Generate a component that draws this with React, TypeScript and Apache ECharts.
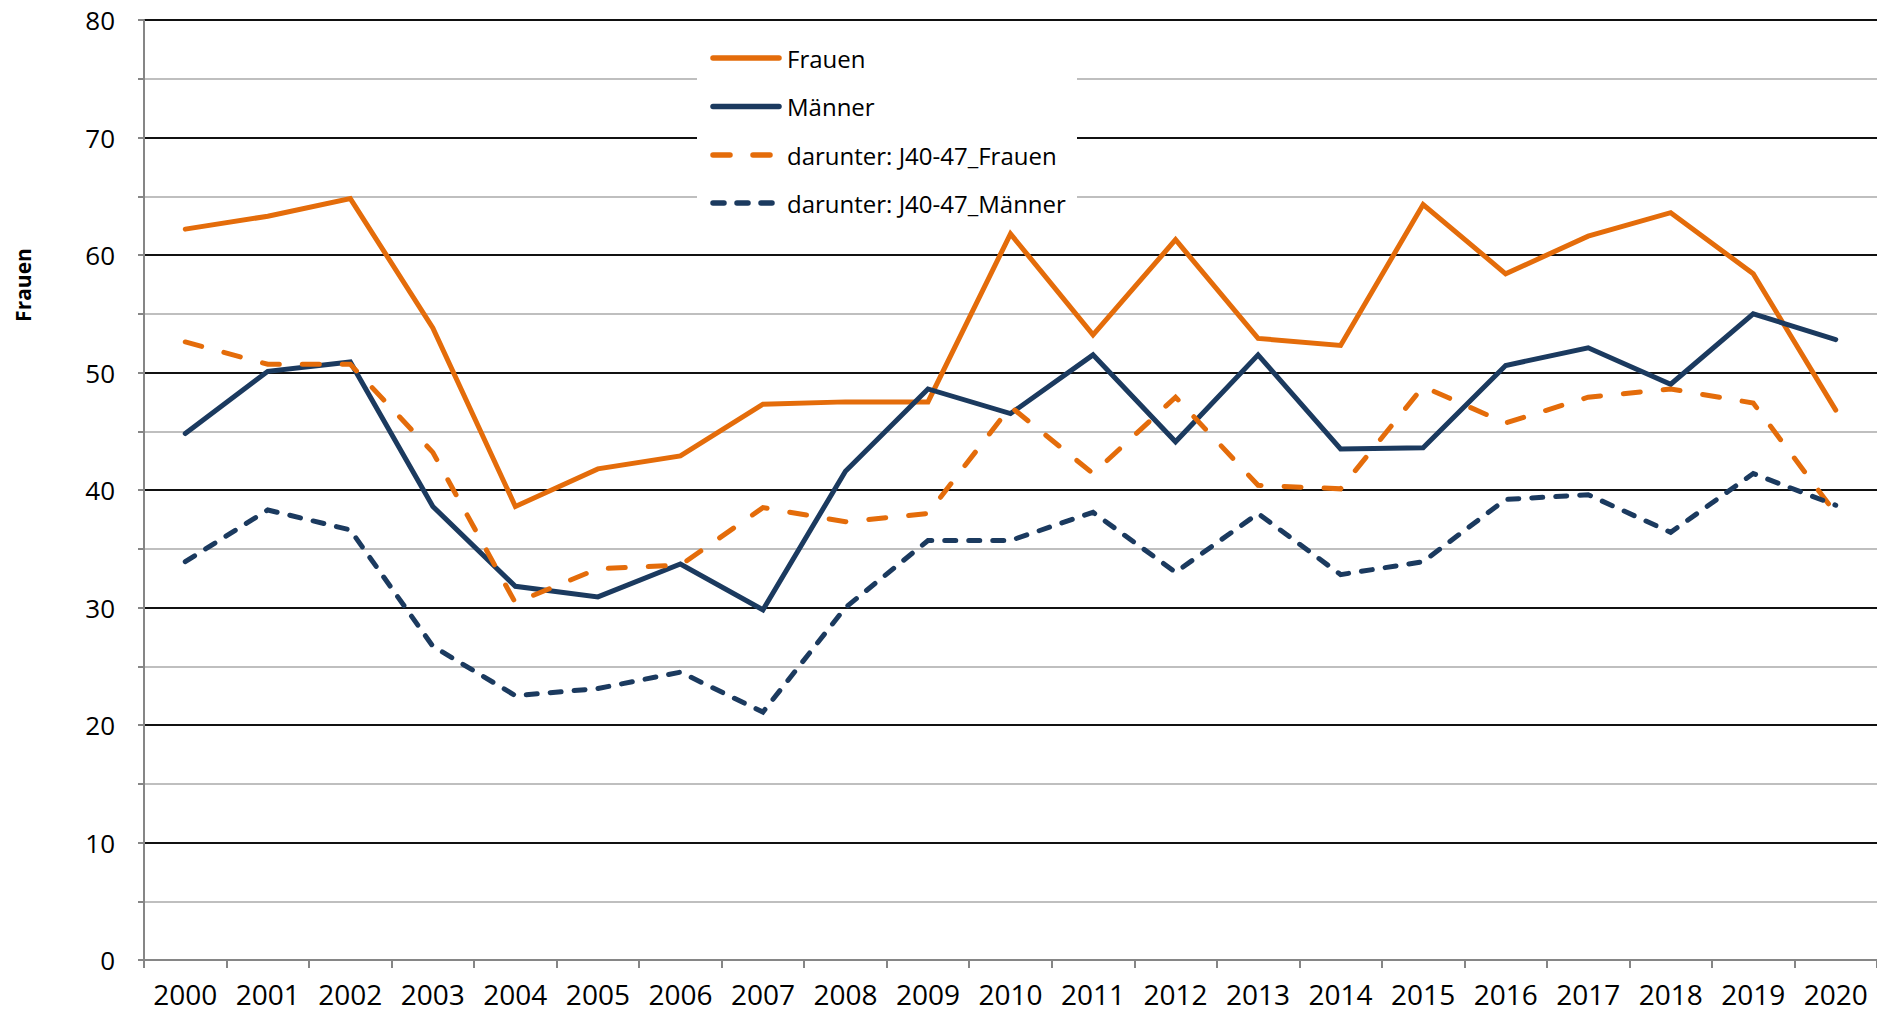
import React, { useEffect, useRef } from "react";
import * as echarts from "echarts";

const years = ["2000","2001","2002","2003","2004","2005","2006","2007","2008","2009","2010","2011","2012","2013","2014","2015","2016","2017","2018","2019","2020"];
const frauen = [62.2, 63.3, 64.8, 53.8, 38.6, 41.8, 42.9, 47.3, 47.5, 47.5, 61.8, 53.2, 61.3, 52.9, 52.3, 64.3, 58.4, 61.6, 63.6, 58.4, 46.8];
const maenner = [44.8, 50.1, 50.9, 38.6, 31.8, 30.9, 33.7, 29.8, 41.6, 48.6, 46.5, 51.5, 44.1, 51.5, 43.5, 43.6, 50.6, 52.1, 49.0, 55.0, 52.8];
const j4047Frauen = [52.6, 50.7, 50.7, 43.2, 30.4, 33.3, 33.6, 38.5, 37.3, 38.0, 47.1, 41.4, 47.9, 40.4, 40.1, 48.8, 45.7, 47.9, 48.6, 47.4, 38.0];
const j4047Maenner = [33.9, 38.3, 36.6, 26.7, 22.5, 23.1, 24.5, 21.1, 30.0, 35.7, 35.7, 38.1, 33.0, 38.0, 32.8, 33.9, 39.2, 39.6, 36.4, 41.4, 38.7];
const seriesNames = ["Frauen", "Männer", "darunter: J40-47_Frauen", "darunter: J40-47_Männer"];
const yAxisTitle = "Frauen";

const ORANGE = "#E46C0A";
const NAVY = "#1B3A5F";
const FONT = "'Open Sans', 'Noto Sans', sans-serif";

export default function App() {
  const ref = useRef<HTMLDivElement>(null);
  useEffect(() => {
    if (!ref.current) return;
    const chart = echarts.init(ref.current, null, { renderer: "svg" });
    const lw = 5;
    const styles = [
      { color: ORANGE, type: "solid" as any },
      { color: NAVY, type: "solid" as any },
      { color: ORANGE, type: [17, 23] as any },
      { color: NAVY, type: [11, 13] as any },
    ];
    const datas = [frauen, maenner, j4047Frauen, j4047Maenner];
    const legendX1 = 713, legendX2 = 779, textX = 787;
    const legendY = [58, 106.5, 155, 203];
    const legendGraphics: any[] = [
      { type: "rect", shape: { x: 697, y: 24, width: 380, height: 204 }, style: { fill: "#fff" }, z: 10 },
    ];
    styles.forEach((s, i) => {
      legendGraphics.push({
        type: "line",
        shape: { x1: legendX1, y1: legendY[i], x2: i === 3 ? 772 : legendX2, y2: legendY[i] },
        style: {
          stroke: s.color,
          lineWidth: 5.5,
          lineCap: "round",
          lineDash: Array.isArray(s.type) ? s.type : null,
        },
        z: 11,
      });
      legendGraphics.push({
        type: "text",
        x: textX,
        y: legendY[i],
        style: { text: seriesNames[i], font: `24px ${FONT}`, fill: "#000", verticalAlign: "middle", align: "left" },
        z: 11,
      });
    });
    legendGraphics.push({
      type: "text",
      x: 23,
      y: 285,
      rotation: Math.PI / 2,
      style: { text: yAxisTitle, font: `bold 21px ${FONT}`, fill: "#000", align: "center", verticalAlign: "middle" },
      z: 11,
    });

    chart.setOption({
      animation: false,
      backgroundColor: "#fff",
      grid: { left: 144, right: 0, top: 20, bottom: 53, containLabel: false },
      xAxis: {
        type: "category",
        data: years,
        boundaryGap: true,
        axisLine: { lineStyle: { color: "#868686", width: 2 } },
        axisTick: { show: true, alignWithLabel: false, length: 8, lineStyle: { color: "#868686", width: 2 } },
        axisLabel: { color: "#000", fontSize: 28, fontFamily: FONT, margin: 20, interval: 0 },
        splitLine: { show: false },
      },
      yAxis: {
        type: "value",
        min: 0,
        max: 80,
        interval: 5,
        axisLine: { show: true, lineStyle: { color: "#868686", width: 2 } },
        axisTick: { show: true, length: 6, lineStyle: { color: "#868686", width: 2 } },
        axisLabel: {
          color: "#000",
          fontSize: 26,
          fontFamily: FONT,
          margin: 29,
          formatter: (v: number) => (v % 10 === 0 ? String(v) : ""),
        },
        splitLine: {
          show: true,
          showMinLine: false,
          lineStyle: { color: ["#BFBFBF", "#111111"], width: 2 },
        },
      },
      series: datas.map((d, i) => ({
        name: seriesNames[i],
        type: "line",
        data: d,
        symbol: "none",
        lineStyle: { color: styles[i].color, width: lw, type: styles[i].type, cap: "round", join: "miter" },
        itemStyle: { color: styles[i].color },
        z: 2 + i,
      })),
      graphic: legendGraphics,
    });
    return () => chart.dispose();
  }, []);
  return (
    <div
      ref={ref}
      style={{ position: "absolute", left: 0, top: 0, width: 1877, height: 1013, background: "#fff" }}
    />
  );
}
